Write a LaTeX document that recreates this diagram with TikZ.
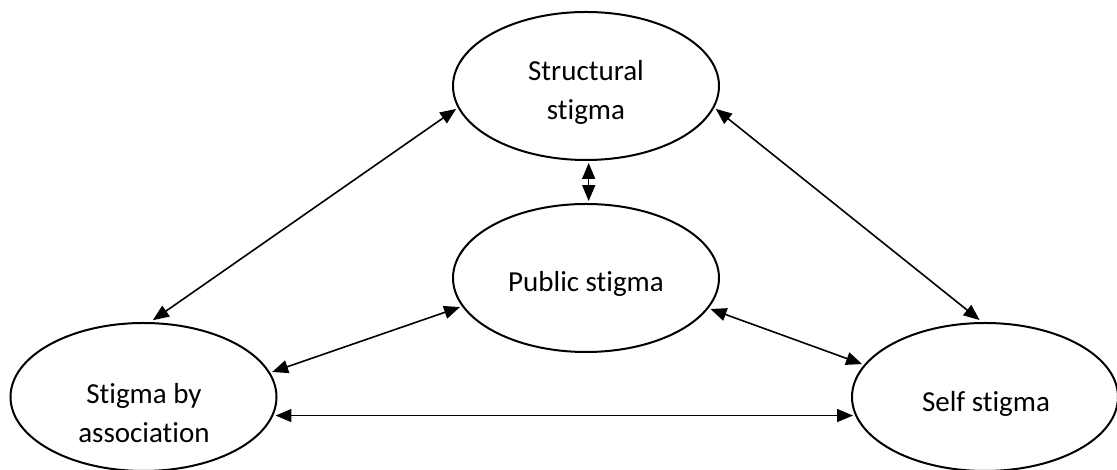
\documentclass[tikz,border=0pt]{standalone}
\usepackage{fontspec}
\setmainfont{Carlito}[Ligatures=NoCommon]
\usetikzlibrary{arrows.meta,shapes.geometric}
\tikzset{
  oval/.style={draw=black, line width=2pt, ellipse, minimum width=266pt, minimum height=148pt, inner sep=0pt, outer sep=3pt},
  lbl/.style={font=\fontsize{29}{39}\selectfont, align=center, inner sep=0pt},
  arr/.style={line width=1.6pt, {Triangle[length=16pt,width=13pt]}-{Triangle[length=16pt,width=13pt]}}
}
\begin{document}
\begin{tikzpicture}[x=1pt,y=1pt]
\useasboundingbox (0,0) rectangle (1117,470);
\node[oval] (S) at (586,384) {};
\node[oval] (P) at (586,192) {};
\node[oval] (A) at (143.5,73) {};
\node[oval] (F) at (985,73) {};
\node[lbl, anchor=base] (tS) at (586,350) {Structural\\stigma};
\node[lbl, anchor=base] (tP) at (586,178) {Public stigma};
\node[lbl, anchor=base] (tA) at (144,27.5) {Stigma by\\association};
\node[lbl, anchor=base] (tF) at (986,58.3) {Self stigma};
\draw[arr] (S.190) -- (A.83);
\draw[arr] (S.350) -- (F.94);
\draw[arr] (S.272) -- (P.88);
\draw[arr] (P.193) -- (A.11);
\draw[arr] (P.346) -- (F.165);
\draw[arr] (A.352) -- (F.188);
\end{tikzpicture}
\end{document}
